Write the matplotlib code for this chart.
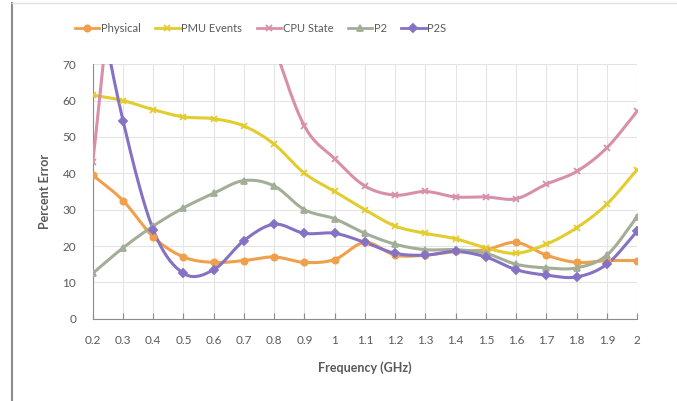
import matplotlib.pyplot as plt
import numpy as np
from matplotlib.lines import Line2D

plt.rcParams["font.family"] = ["Lato", "DejaVu Sans"]

freq = ["0.2", "0.3", "0.4", "0.5", "0.6", "0.7", "0.8", "0.9", "1", "1.1",
        "1.2", "1.3", "1.4", "1.5", "1.6", "1.7", "1.8", "1.9", "2"]

physical = [39.5, 32.5, 22.5, 17, 15.5, 16, 17, 15.5, 16.3, 21,
            17.5, 17.5, 18.5, 19, 21, 17.5, 15.5, 16, 16]
pmu = [61.5, 60, 57.5, 55.5, 55, 53, 48, 40, 35, 30,
       25.5, 23.5, 22, 19.5, 18, 20.5, 25, 31.5, 41]
cpu = [43, 115, 125, 120, 110, 100, 75, 53, 44, 36.5,
       34, 35, 33.5, 33.5, 33, 37, 40.5, 47, 57]
p2 = [12.5, 19.5, 25.5, 30.5, 34.5, 38, 36.5, 30, 27.5, 23.5,
      20.5, 19, 19, 18, 15, 14, 14, 17.5, 28]
p2s = [95, 54.5, 24.5, 12.5, 13.5, 21.5, 26, 23.5, 23.5, 21,
       18, 17.5, 18.5, 17, 13.5, 12, 11.5, 15, 24]

series = [
    ("Physical", physical, "#F0A04B", "o", 4.5),
    ("PMU Events", pmu, "#E2CC2E", "x", 4.5),
    ("CPU State", cpu, "#D890AA", "x", 4.5),
    ("P2", p2, "#A2AE98", "^", 4.5),
    ("P2S", p2s, "#8572C4", "D", 3.8),
]


def smooth(x, y, n=20):
    # catmull-rom, roughly what excel does for smoothed lines
    x = np.asarray(x, float)
    y = np.asarray(y, float)
    px = np.concatenate([[2 * x[0] - x[1]], x, [2 * x[-1] - x[-2]]])
    py = np.concatenate([[2 * y[0] - y[1]], y, [2 * y[-1] - y[-2]]])
    xs, ys = [], []
    t = np.linspace(0, 1, n, endpoint=False)
    for i in range(1, len(px) - 2):
        for arr, out in ((px, xs), (py, ys)):
            p0, p1, p2_, p3 = arr[i - 1], arr[i], arr[i + 1], arr[i + 2]
            out.extend(0.5 * (2 * p1 + (-p0 + p2_) * t
                              + (2 * p0 - 5 * p1 + 4 * p2_ - p3) * t ** 2
                              + (-p0 + 3 * p1 - 3 * p2_ + p3) * t ** 3))
    xs.append(x[-1])
    ys.append(y[-1])
    return np.array(xs), np.array(ys)


fig = plt.figure(figsize=(6.77, 4.01), dpi=100)
ax = fig.add_axes([0.137, 0.205, 0.804, 0.635])

xpos = np.arange(len(freq))
handles = []
for name, vals, color, marker, ms in series:
    sx, sy = smooth(xpos, vals)
    ax.plot(sx, sy, color=color, lw=2.2, zorder=3)
    ax.plot(xpos, vals, ls="none", marker=marker, color=color, ms=ms,
            mew=1.3, zorder=4)
    handles.append(Line2D([], [], color=color, lw=2, marker=marker, ms=ms, mew=1.3))

ax.set_xlim(0, len(freq) - 1)
ax.set_ylim(0, 70)
ax.set_xticks(xpos)
ax.set_xticklabels(freq)
ax.set_yticks(range(0, 71, 10))
ax.grid(True, color="#E4E4E4", lw=0.8)
ax.set_axisbelow(True)
for s in ["top", "right"]:
    ax.spines[s].set_visible(False)
for s in ["left", "bottom"]:
    ax.spines[s].set_color("#8C8C8C")
ax.tick_params(axis="x", direction="in", length=4, color="#8C8C8C",
               labelcolor="#595959", labelsize=8.5, pad=12)
ax.tick_params(axis="y", length=0, labelcolor="#595959", labelsize=8.5, pad=12)

ax.set_xlabel("Frequency (GHz)", fontsize=9, fontweight="bold", color="#595959",
              labelpad=11)
ax.set_ylabel("Percent Error", fontsize=9, fontweight="bold", color="#595959",
              labelpad=8)

fig.legend(handles, [s[0] for s in series], loc="center", bbox_to_anchor=(0.385, 0.93),
           ncol=5, frameon=False, fontsize=8, labelcolor="#595959",
           handlelength=2.2, handletextpad=0.15, columnspacing=1.3)

fig.add_artist(Line2D([0.018, 0.018], [0, 0.993], color="#8C8C8C", lw=1.5))
fig.add_artist(Line2D([0.018, 1], [0.993, 0.993], color="#E0E0E0", lw=1))

fig.savefig("out.png", dpi=100)
